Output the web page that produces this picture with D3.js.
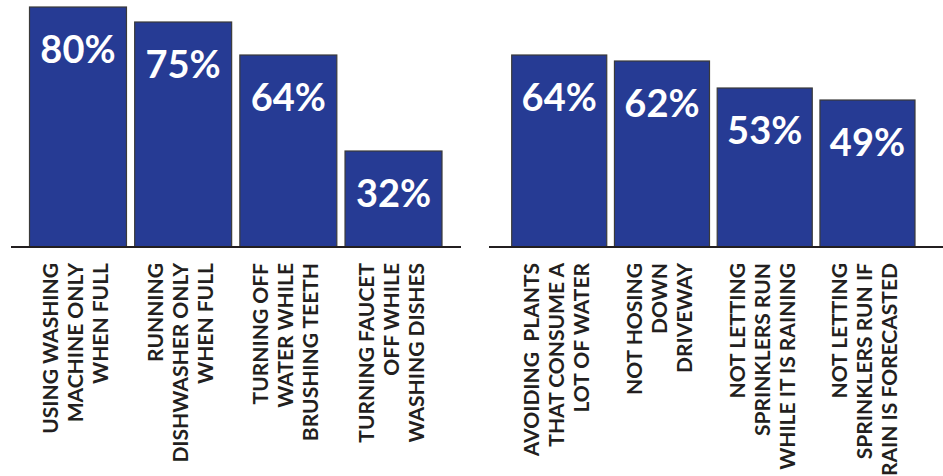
<!DOCTYPE html>
<html>
<head>
<meta charset="utf-8">
<script src="https://cdn.jsdelivr.net/npm/d3@7"></script>
<style>
  html, body { margin: 0; padding: 0; background: #fff; }
  svg { display: block; }
</style>
</head>
<body>
<svg id="chart" width="943" height="476"></svg>
<script>
// ---- data ----
const leftCategories = [
  ["USING WASHING", "MACHINE ONLY", "WHEN FULL"],
  ["RUNNING", "DISHWASHER ONLY", "WHEN FULL"],
  ["TURNING OFF", "WATER WHILE", "BRUSHING TEETH"],
  ["TURNING FAUCET", "OFF WHILE", "WASHING DISHES"]
];
const leftValues = [80, 75, 64, 32];

const rightCategories = [
  ["AVOIDING  PLANTS", "THAT CONSUME A", "LOT OF WATER"],
  ["NOT HOSING", "DOWN", "DRIVEWAY"],
  ["NOT LETTING", "SPRINKLERS RUN", "WHILE IT IS RAINING"],
  ["NOT LETTING", "SPRINKLERS RUN IF", "RAIN IS FORECASTED"]
];
const rightValues = [64, 62, 53, 49];

const valueSuffix = "%";

// ---- layout ----
const svg = d3.select("#chart");
const baseY = 247;
const y = d3.scaleLinear().domain([0, 80]).range([baseY, 7]);

const barFill = "#263b94";
const barStroke = "#3a3a3a";
const ink = "#231f20";

const panels = [
  { cats: leftCategories, vals: leftValues, range: [29.5, 442], pad: 0.078, axis: [11, 461] },
  { cats: rightCategories, vals: rightValues, range: [511.7, 915], pad: 0.075, axis: [489, 943] }
];

panels.forEach(p => {
  const idx = p.vals.map((_, i) => i);
  const x = d3.scaleBand().domain(idx).range(p.range).paddingInner(p.pad).paddingOuter(0);
  const g = svg.append("g");

  g.selectAll("rect.bar").data(idx).join("rect")
    .attr("class", "bar")
    .attr("x", i => x(i))
    .attr("y", i => y(p.vals[i]))
    .attr("width", x.bandwidth())
    .attr("height", i => y(0) - y(p.vals[i]))
    .attr("fill", barFill)
    .attr("stroke", barStroke)
    .attr("stroke-width", 1.2);

  g.selectAll("text.val").data(idx).join("text")
    .attr("class", "val")
    .attr("x", i => x(i) + x.bandwidth() / 2)
    .attr("y", i => y(p.vals[i]) + 56)
    .attr("text-anchor", "middle")
    .attr("fill", "#fff")
    .style("font-family", "Lato, 'Open Sans', sans-serif")
    .style("font-weight", 700)
    .style("font-size", "38px")
    .text(i => p.vals[i] + valueSuffix);

  g.append("line")
    .attr("x1", p.axis[0]).attr("x2", p.axis[1])
    .attr("y1", baseY).attr("y2", baseY)
    .attr("stroke", ink).attr("stroke-width", 2.2);

  const lab = g.selectAll("g.lab").data(idx).join("g")
    .attr("class", "lab")
    .attr("transform", i => `translate(${x(i) + x.bandwidth() / 2}, 263) rotate(-90)`);

  lab.each(function(i) {
    const lines = p.cats[i];
    const t = d3.select(this).append("text")
      .attr("text-anchor", "end")
      .attr("fill", ink)
      .attr("xml:space", "preserve")
      .style("white-space", "pre")
      .style("font-family", "Lato, 'Open Sans', sans-serif")
      .style("font-weight", 700)
      .style("font-size", "21px");
    lines.forEach((ln, k) => {
      t.append("tspan")
        .attr("x", 0)
        .attr("y", 5 + (k - (lines.length - 1) / 2) * 25)
        .text(ln);
    });
  });
});
</script>
</body>
</html>
